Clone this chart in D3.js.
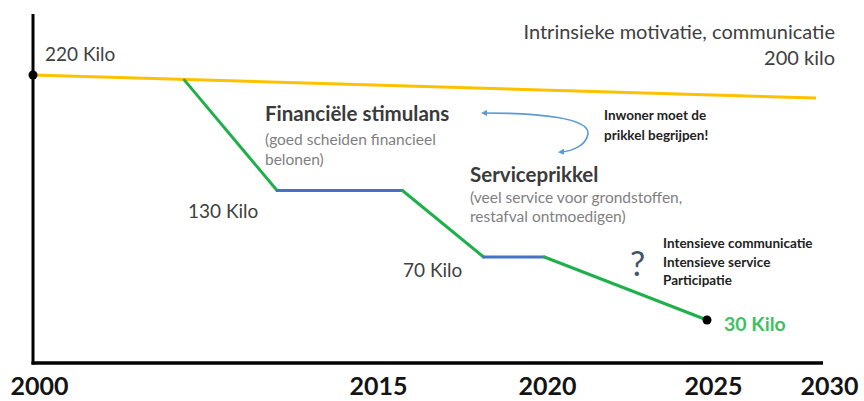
<!DOCTYPE html>
<html>
<head>
<meta charset="utf-8">
<script src="https://cdn.jsdelivr.net/npm/d3@7"></script>
<style>
  body { margin: 0; background: #fff; }
  svg { display: block; font-family: Lato, "Open Sans", sans-serif; }
</style>
</head>
<body>
<div id="chart"></div>
<script>
// tick labels on the time axis
const yearTicks = [2000, 2015, 2020, 2025, 2030];

// baseline: intrinsic motivation / communication
const baseYears = [2000, 2029.7];
const baseKilo = [220, 202];

// policy path (green = drop, blue = plateau)
const pathYears = [2006.7, 2010.8, 2015.9, 2018.3, 2020.1, 2025];
const pathKilo = [216, 130, 130, 70, 70, 30];
const segmentType = ["drop", "flat", "drop", "flat", "drop"];

// kilo labels along the path
const kiloLabels = ["220 Kilo", "130 Kilo", "70 Kilo", "30 Kilo"];

const width = 864, height = 401;
const axisX0 = 33, axisX1 = 823, axisTop = 14, axisY = 363;

const svg = d3.select("#chart").append("svg")
  .attr("width", width)
  .attr("height", height);

// the slide's time axis is not evenly spaced, so use a piecewise scale
const x = d3.scaleLinear()
  .domain(yearTicks)
  .range([33, 372, 541, 707, 823]);

const y = d3.scaleLinear()
  .domain([0, 30, 70, 130, 220])
  .range([axisY, 320, 257, 190.5, 75]);

const colors = {drop: "#1fb04b", flat: "#4472c4", base: "#ffc000"};

// axes
svg.append("line")
  .attr("x1", axisX0).attr("x2", axisX0)
  .attr("y1", axisTop).attr("y2", axisY + 1.5)
  .attr("stroke", "#000").attr("stroke-width", 3);
svg.append("line")
  .attr("x1", axisX0 - 1.5).attr("x2", axisX1)
  .attr("y1", axisY).attr("y2", axisY)
  .attr("stroke", "#000").attr("stroke-width", 3.5);

const xAxis = svg.append("g")
  .attr("transform", `translate(0,${axisY})`)
  .call(d3.axisBottom(x).tickValues(yearTicks).tickFormat(d3.format("d")).tickSize(0));
xAxis.select(".domain").remove();
xAxis.selectAll("text")
  .attr("dx", 6)
  .attr("dy", 0)
  .attr("y", 32)
  .style("font-family", "Lato, sans-serif")
  .style("font-weight", "bold")
  .style("font-size", "25px")
  .attr("fill", "#141414");

// baseline
const line = d3.line()
  .x(d => x(d[0]))
  .y(d => y(d[1]));

svg.append("path")
  .datum(baseYears.map((yr, i) => [yr, baseKilo[i]]))
  .attr("d", line)
  .attr("fill", "none")
  .attr("stroke", colors.base)
  .attr("stroke-width", 3);

// policy path segments
const segments = segmentType.map((t, i) => ({
  type: t,
  pts: [[pathYears[i], pathKilo[i]], [pathYears[i + 1], pathKilo[i + 1]]]
}));
svg.selectAll(".seg")
  .data(segments)
  .enter().append("path")
  .attr("class", "seg")
  .attr("d", d => line(d.pts))
  .attr("fill", "none")
  .attr("stroke", d => colors[d.type])
  .attr("stroke-width", 3)
  .attr("stroke-linecap", "round");

// end points
svg.selectAll(".dot")
  .data([[baseYears[0], baseKilo[0]], [pathYears[pathYears.length - 1], pathKilo[pathKilo.length - 1]]])
  .enter().append("circle")
  .attr("cx", d => x(d[0]))
  .attr("cy", d => y(d[1]))
  .attr("r", 4.5)
  .attr("fill", "#000");

// text helper
function label(txt, px, py, opts) {
  opts = opts || {};
  return svg.append("text")
    .attr("x", px).attr("y", py)
    .attr("text-anchor", opts.anchor || "start")
    .style("font-size", (opts.size || 18) + "px")
    .style("font-weight", opts.bold ? "bold" : "normal")
    .attr("fill", opts.color || "#404040")
    .text(txt);
}

label(kiloLabels[0], 45, 61, {size: 19});
label(kiloLabels[1], 188, 218, {size: 19});
label(kiloLabels[2], 403, 277, {size: 19});
label(kiloLabels[3], 724, 331, {size: 19.5, bold: true, color: "#3fc162"});

label("Intrinsieke motivatie, communicatie", 835, 39, {size: 20, anchor: "end"});
label("200 kilo", 835, 65, {size: 20, anchor: "end"});

label("Financiële stimulans", 265, 121, {size: 20.5, bold: true, color: "#3a3a3a"});
label("(goed scheiden financieel", 265, 145, {size: 15.5, color: "#7f7f7f"});
label("belonen)", 265, 165, {size: 15.5, color: "#7f7f7f"});

label("Serviceprikkel", 470, 182, {size: 20.5, bold: true, color: "#3a3a3a"});
label("(veel service voor grondstoffen,", 470, 203, {size: 15.5, color: "#7f7f7f"});
label("restafval ontmoedigen)", 470, 222, {size: 15.5, color: "#7f7f7f"});

label("Inwoner moet de", 604, 120, {size: 13.5, bold: true, color: "#222"});
label("prikkel begrijpen!", 604, 140, {size: 13.5, bold: true, color: "#222"});

label("?", 630, 276, {size: 34, color: "#44546a"});
label("Intensieve communicatie", 663, 248, {size: 13.5, bold: true, color: "#222"});
label("Intensieve service", 663, 267, {size: 13.5, bold: true, color: "#222"});
label("Participatie", 663, 285, {size: 13.5, bold: true, color: "#222"});

// curved double arrow
const defs = svg.append("defs");
defs.append("marker")
  .attr("id", "arrowhead")
  .attr("viewBox", "0 0 10 10")
  .attr("refX", 5).attr("refY", 5)
  .attr("markerWidth", 4).attr("markerHeight", 4)
  .attr("orient", "auto-start-reverse")
  .append("path")
  .attr("d", "M0,0L10,5L0,10z")
  .attr("fill", "#5b9bd5");

svg.append("path")
  .attr("d", "M484,113 C540,113 590,118 588,134 C586,146 572,151 561,152")
  .attr("fill", "none")
  .attr("stroke", "#5b9bd5")
  .attr("stroke-width", 1.6)
  .attr("marker-start", "url(#arrowhead)")
  .attr("marker-end", "url(#arrowhead)");
</script>
</body>
</html>
